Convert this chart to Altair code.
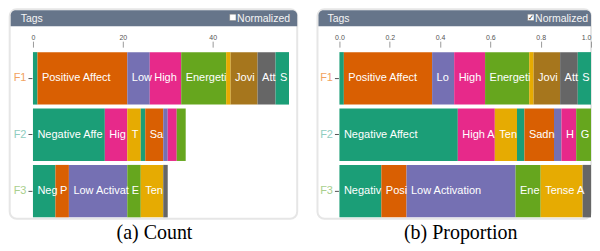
import altair as alt
import pandas as pd

# ---------------- data ----------------
categories = ["Negative Affect", "Positive Affect", "Low Activation", "High Activation",
              "Energetic Arousal", "Tense Arousal", "Joviality", "Attentiveness",
              "Serenity", "Sadness", "Fear", "Hostility", "Guilt"]
dark2 = ["#1b9e77", "#d95f02", "#7570b3", "#e7298a", "#66a61e", "#e6ab02", "#a6761d", "#666666"]
cat_colors = [dark2[i % len(dark2)] for i in range(len(categories))]

factors = ["F1", "F2", "F3"]
factor_label_colors = ["#f2a35f", "#90cdbf", "#a9cf8e"]

f1_tags = ["Negative Affect", "Positive Affect", "Low Activation", "High Activation",
           "Energetic Arousal", "Tense Arousal", "Joviality", "Attentiveness", "Serenity"]
f1_counts = [1, 20, 5, 7, 10, 1, 6, 4, 3]
f2_tags = ["Negative Affect", "High Activation", "Tense Arousal", "Serenity",
           "Sadness", "Fear", "Hostility", "Guilt"]
f2_counts = [16, 5, 3, 1, 4, 1, 2, 2]
f3_tags = ["Negative Affect", "Positive Affect", "Low Activation", "Energetic Arousal",
           "Tense Arousal", "Attentiveness"]
f3_counts = [5, 3, 13, 3, 5, 1]

count_ticks = [0, 20, 40]
prop_ticks = [0.0, 0.2, 0.4, 0.6, 0.8, 1.0]

rows = []
for f, tags, counts in zip(factors, [f1_tags, f2_tags, f3_tags], [f1_counts, f2_counts, f3_counts]):
    for t, c in zip(tags, counts):
        rows.append({"factor": f, "tag": t, "count": c, "order": categories.index(t)})
df = pd.DataFrame(rows)
max_total = int(df.groupby("factor")["count"].sum().max())

FONT = "Liberation Sans"
HEADER = "#66758a"
one = pd.DataFrame({"k": [0]})

label_color_expr = ("datum.label == 'F1' ? '%s' : datum.label == 'F2' ? '%s' : '%s'"
                    % tuple(factor_label_colors))


def panel(normalized):
    if normalized:
        L, T, W = 339.0, 52.0, 252.0
        dmax, ticks, fmt, caption = 1.0, prop_ticks, ".1f", "(b) Proportion"
        card = (317, 591)
        head = (318, 591)
        tags_x, box_x, norm_x, cap_x = 327, 527.5, 535, 460.5
        head_radius_right = 5
        label_align = alt.expr("datum.value >= 1 ? 'right' : 'center'")
    else:
        L, T, W = 32.3, 52.0, 256.5
        dmax, ticks, fmt, caption = max_total, count_ticks, "d", "(a) Count"
        card = (9, 297)
        head = (10, 297)
        tags_x, box_x, norm_x, cap_x = 20, 229.3, 236.8, 154
        head_radius_right = 5
        label_align = "center"
    H = 165.5
    k = W / dmax

    def vx(p):
        return alt.value(p - L)

    def vy(p):
        return alt.value(p - T)

    base = alt.Chart(df).transform_stack(
        stack="count", groupby=["factor"], as_=["x0", "x1"],
        sort=[alt.SortField(field="order", order="ascending")],
        offset="normalize" if normalized else "zero",
    ).transform_calculate(lim=f"(datum.x1 - datum.x0) * {k} - 2")

    x_enc = alt.X("x0:Q", scale=alt.Scale(domain=[0, dmax], nice=False, zero=True),
                  axis=alt.Axis(orient="top", title=None, domain=False, values=ticks, format=fmt,
                                tickSize=6, tickColor="#9a9a9a", labelFontSize=7, labelColor="#555",
                                labelPadding=1, offset=5, labelFont=FONT, grid=False,
                                labelFlush=False, labelAlign=label_align, zindex=1))
    y_enc = alt.Y("factor:N", sort=factors,
                  scale=alt.Scale(paddingInner=0.07, paddingOuter=0),
                  axis=alt.Axis(title=None, domain=False, tickSize=4, tickColor="#555",
                                labelPadding=2, offset=1, labelFont=FONT, labelFontSize=11,
                                labelColor=alt.expr(label_color_expr), zindex=1))

    bars = base.mark_bar().encode(
        x=x_enc, x2="x1:Q", y=y_enc,
        color=alt.Color("tag:N", scale=alt.Scale(domain=categories, range=cat_colors), legend=None),
    )
    seg_text = base.transform_filter("datum.lim >= 7").mark_text(
        align="left", baseline="middle", dx=4.5, color="white",
        font=FONT, fontSize=11, limit=alt.expr("datum.lim"),
        ellipsis="\u200b").encode(x=x_enc, y=y_enc, text="tag:N")

    deco = alt.Chart(one)
    card_rect = deco.mark_rect(cornerRadius=7, fill="white", stroke="#e6e6e6", strokeWidth=2).encode(
        x=vx(card[0]), x2=vx(card[1]), y=vy(9), y2=vy(219))
    header = deco.mark_rect(cornerRadiusTopLeft=5, cornerRadiusTopRight=head_radius_right,
                            color=HEADER).encode(
        x=vx(head[0]), x2=vx(head[1]), y=vy(10), y2=vy(26))
    tags_txt = deco.mark_text(text="Tags", align="left", baseline="alphabetic", color="#f4f4f4",
                              font=FONT, fontSize=10.5).encode(x=vx(tags_x), y=vy(22))
    box = deco.mark_rect(fill="white", stroke="#777", strokeWidth=0.5).encode(
        x=vx(box_x), x2=vx(box_x + 6.4), y=vy(14), y2=vy(20.4))
    norm_txt = deco.mark_text(text="Normalized", align="left", baseline="alphabetic", color="#f4f4f4",
                              font=FONT, fontSize=10.5).encode(x=vx(norm_x), y=vy(21.7))
    cap = deco.mark_text(text=caption, align="center", baseline="alphabetic", color="black",
                         font="Liberation Serif", fontSize=20).encode(x=vx(cap_x), y=vy(239))
    layers = [card_rect, header, tags_txt, box, norm_txt]
    if normalized:
        check = deco.mark_text(text="\u2713", align="center", baseline="middle", color="#333",
                               font="DejaVu Sans", fontSize=7, fontWeight="bold").encode(
            x=vx(box_x + 3.2), y=vy(17.4))
        layers.append(check)
    layers += [bars, seg_text, cap]
    return alt.layer(*layers).properties(width=W, height=H)


chart = alt.hconcat(panel(False), panel(True), spacing=18).properties(
    padding={"left": 0, "top": 0, "right": 0, "bottom": 0}
).configure_view(stroke=None)

chart.save("out.html", embed_options={"renderer": "svg", "actions": False})
